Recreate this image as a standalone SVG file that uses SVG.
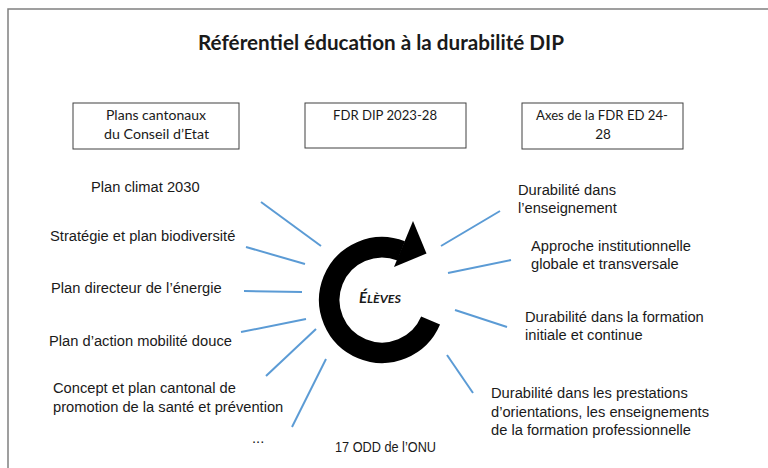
<svg xmlns="http://www.w3.org/2000/svg" width="768" height="468" viewBox="0 0 768 468">
<style>
.frame{fill:none;stroke:#808080;stroke-width:1.5}
.box{fill:#fff;stroke:#404040;stroke-width:1}
.cal{font-family:Lato,"Open Sans","Liberation Sans",sans-serif;fill:#1a1a1a}
.ar{font-family:"Liberation Sans",Arial,sans-serif;font-size:14.7px;fill:#1a1a1a}
.ray{stroke:#5b9bd5;stroke-width:2;fill:none;stroke-linecap:butt}
</style>
<rect width="768" height="468" fill="#fff"/>
<path class="frame" d="M8,470 V9 H770"/>
<g id="title">
<text class="cal" x="381" y="50" text-anchor="middle" font-size="20.5" font-weight="bold" textLength="366" lengthAdjust="spacingAndGlyphs">Référentiel éducation à la durabilité DIP</text>
</g>
<g id="box-plans">
<rect class="box" x="73" y="103" width="166" height="46"/>
<text class="cal" font-size="13.5" text-anchor="middle"><tspan x="156" y="120" textLength="100" lengthAdjust="spacingAndGlyphs">Plans cantonaux</tspan><tspan x="156.5" y="139" textLength="105" lengthAdjust="spacingAndGlyphs">du Conseil d’Etat</tspan></text>
</g>
<g id="box-fdr">
<rect class="box" x="305" y="103" width="161" height="45"/>
<text class="cal" font-size="13.5" text-anchor="middle" x="385" y="120" textLength="104" lengthAdjust="spacingAndGlyphs">FDR DIP 2023-28</text>
</g>
<g id="box-axes">
<rect class="box" x="522" y="103" width="161" height="46"/>
<text class="cal" font-size="13.5" text-anchor="middle"><tspan x="602" y="120" textLength="132" lengthAdjust="spacingAndGlyphs">Axes de la FDR ED 24-</tspan><tspan x="603" y="139">28</tspan></text>
</g>
<g id="eleves">
<path d="M430.6,320.6 A52.75,52.75 0 1 1 401.2,250.9" fill="none" stroke="#000" stroke-width="20.5"/>
<polygon points="413,221 426.5,253.5 394,267" fill="#000"/>
<text class="cal" x="380" y="303" text-anchor="middle" font-weight="bold" font-style="italic" textLength="42" lengthAdjust="spacingAndGlyphs"><tspan font-size="14.5">É</tspan><tspan font-size="12">LÈVES</tspan></text>
</g>
<g id="connectors">
<line class="ray" x1="261" y1="202" x2="321" y2="246"/>
<line class="ray" x1="246" y1="247" x2="305" y2="264"/>
<line class="ray" x1="244" y1="291" x2="302" y2="292"/>
<line class="ray" x1="241" y1="332" x2="306" y2="319"/>
<line class="ray" x1="316" y1="329" x2="266" y2="376"/>
<line class="ray" x1="326" y1="359" x2="292" y2="427"/>
<line class="ray" x1="441" y1="246" x2="500" y2="211"/>
<line class="ray" x1="448" y1="273" x2="511" y2="260"/>
<line class="ray" x1="455" y1="310" x2="507" y2="327"/>
<line class="ray" x1="447" y1="355" x2="473" y2="393"/>
</g>
<g id="plan-climat"><text class="ar" x="91" y="192">Plan climat 2030</text></g>
<g id="strategie-biodiversite"><text class="ar" x="50" y="241">Stratégie et plan biodiversité</text></g>
<g id="plan-energie"><text class="ar" x="51" y="293">Plan directeur de l’énergie</text></g>
<g id="plan-mobilite"><text class="ar" x="49" y="346">Plan d’action mobilité douce</text></g>
<g id="plan-sante"><text class="ar"><tspan x="53" y="393">Concept et plan cantonal de</tspan><tspan x="53" y="412">promotion de la santé et prévention</tspan></text></g>
<g id="etc"><text class="ar" x="252" y="443" font-size="13">...</text></g>
<g id="odd"><text class="ar" x="335" y="452" font-size="12.8" textLength="101" lengthAdjust="spacingAndGlyphs">17 ODD de l’ONU</text></g>
<g id="durabilite-enseignement"><text class="ar"><tspan x="518" y="195">Durabilité dans</tspan><tspan x="518" y="213">l’enseignement</tspan></text></g>
<g id="approche-institutionnelle"><text class="ar"><tspan x="531" y="251">Approche institutionnelle</tspan><tspan x="531" y="269">globale et transversale</tspan></text></g>
<g id="durabilite-formation"><text class="ar"><tspan x="525" y="322">Durabilité dans la formation</tspan><tspan x="525" y="340">initiale et continue</tspan></text></g>
<g id="durabilite-prestations"><text class="ar"><tspan x="491" y="398">Durabilité dans les prestations</tspan><tspan x="491" y="417">d’orientations, les enseignements</tspan><tspan x="491" y="435">de la formation professionnelle</tspan></text></g>
</svg>
